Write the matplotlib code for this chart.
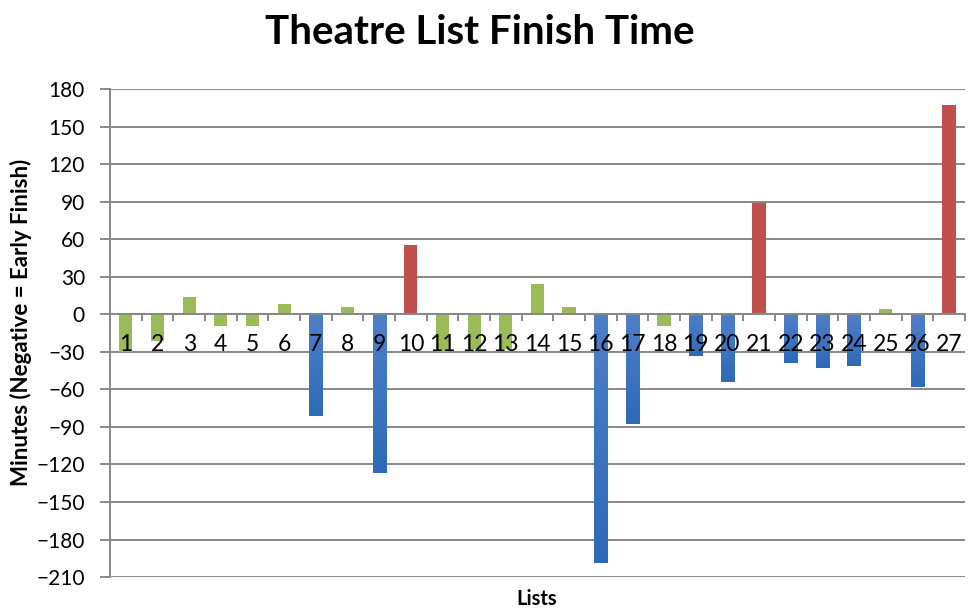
import matplotlib
matplotlib.use("Agg")
import matplotlib.pyplot as plt
import numpy as np
from matplotlib.colors import LinearSegmentedColormap
from matplotlib.ticker import FixedLocator

plt.rcParams['font.family'] = ['Lato', 'DejaVu Sans']

lists = list(range(1, 28))
minutes = [-30, -21, 14, -9, -9, 8, -81, 6, -127, 55,
           -30, -28, -28, 24, 6, -199, -88, -9, -33, -54,
           89, -39, -43, -41, 4, -58, 167]
y_ticks = list(range(-210, 181, 30))

GREEN = '#9BBB59'
BLUE = '#3470C0'
RED = '#C0504D'
GRID = '#878787'
BAR_W = 0.42

blue_fade = LinearSegmentedColormap.from_list('blue_fade', ['#2E6AB8', '#4E80C7'])


def bar_colour(v):
    if v > 30:
        return RED
    if v < -30:
        return BLUE
    return GREEN


fig = plt.figure(figsize=(9.76, 6.1), dpi=100)
ax = fig.add_axes([0.1127, 0.054, 0.876, 0.800])

bars = ax.bar(lists, minutes, width=BAR_W, color=[bar_colour(v) for v in minutes], zorder=2)

# late-start bars get a soft vertical shade
grad = np.linspace(0, 1, 256).reshape(-1, 1)
for b, v in zip(bars, minutes):
    if bar_colour(v) != BLUE:
        continue
    x0 = b.get_x()
    im = ax.imshow(grad, cmap=blue_fade, aspect='auto', origin='lower',
                   extent=[x0, x0 + BAR_W, v, 0], zorder=2.1)
    im.set_clip_path(b)

ax.set_xlim(0.5, 27.5)
ax.set_ylim(-210, 180)
ax.yaxis.set_major_locator(FixedLocator(y_ticks))
for y in y_ticks:
    ax.axhline(y, color=GRID, lw=1.4, zorder=0.5)

# axis (and its labels) drawn over the bars
ax.set_axisbelow(False)
ax.spines['bottom'].set_position(('data', 0))
ax.spines['bottom'].set_color(GRID)
ax.spines['bottom'].set_linewidth(1.4)
ax.spines['left'].set_color(GRID)
ax.spines['left'].set_linewidth(1.4)
ax.spines['top'].set_visible(False)
ax.spines['right'].set_visible(False)

ax.set_xticks(lists)
ax.set_xticklabels([str(i) for i in lists])
ax.xaxis.set_minor_locator(FixedLocator([i + 0.5 for i in range(0, 28)]))
ax.tick_params(axis='x', which='major', length=0, pad=14, labelsize=16.5)
ax.tick_params(axis='x', which='minor', length=5, width=1.4, color=GRID, direction='out')
ax.tick_params(axis='y', length=7, width=1.4, color=GRID, labelsize=15, pad=11)

fig.text(0.492, 0.946, 'Theatre List Finish Time', ha='center', va='center',
         fontsize=29, fontweight='bold')
fig.text(0.021, 0.472, 'Minutes (Negative = Early Finish)', ha='center', va='center',
         rotation=90, fontsize=16, fontweight='bold')
fig.text(0.5495, 0.018, 'Lists', ha='center', va='center', fontsize=14.5, fontweight='bold')

fig.savefig('out.png', dpi=100)
